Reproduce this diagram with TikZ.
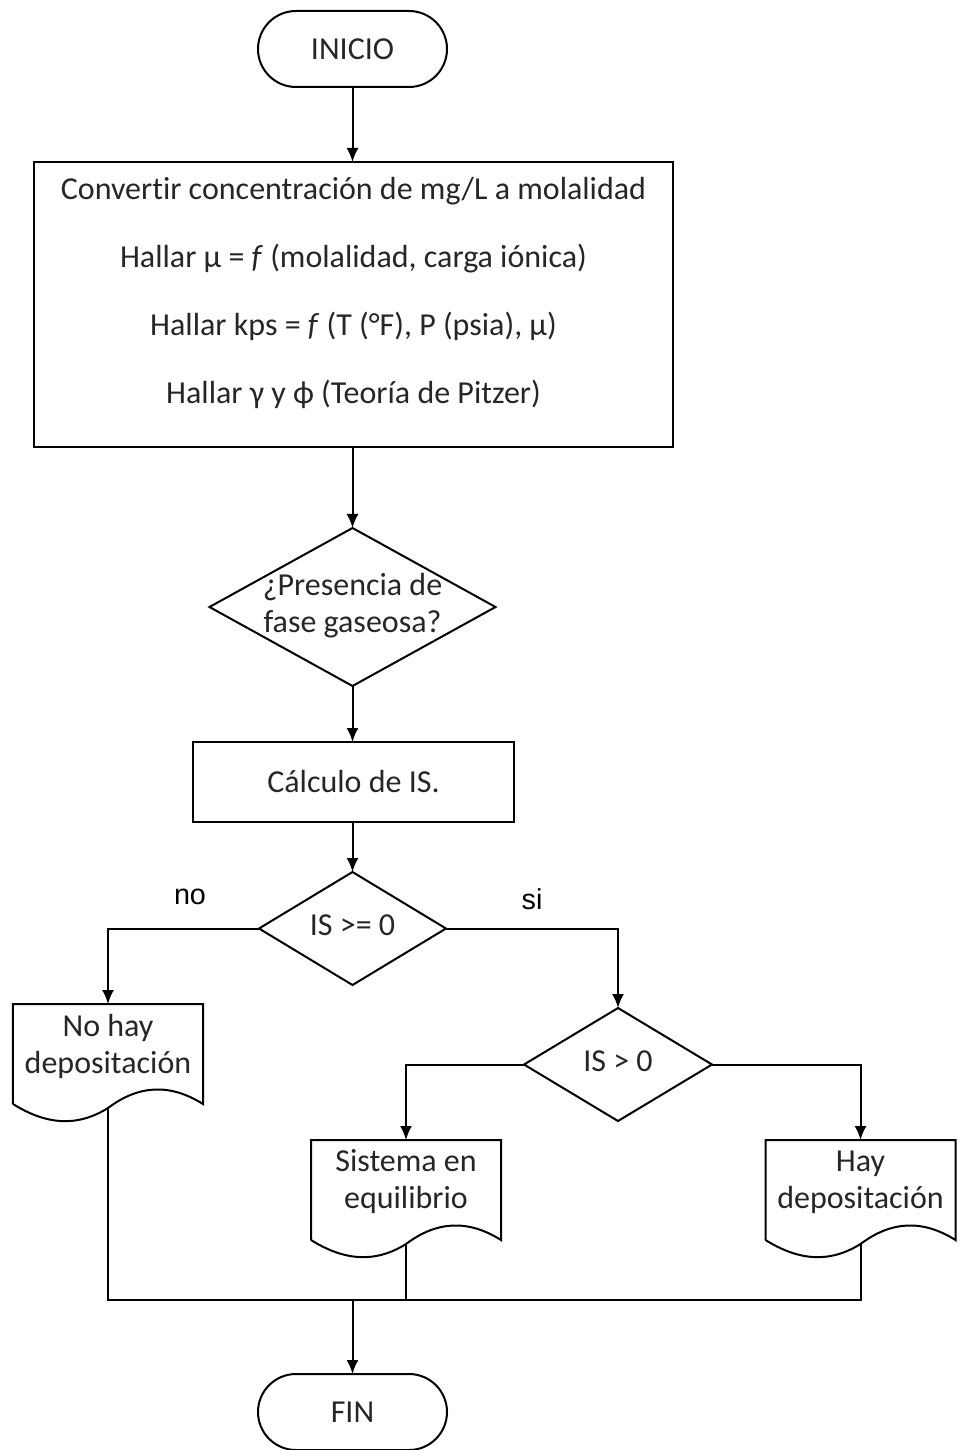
\documentclass[tikz,border=0pt]{standalone}
\usepackage{fontspec}
\setmainfont[Ligatures=NoCommon]{Carlito}
\newfontfamily\lblfont{Liberation Sans}
\usetikzlibrary{shapes.geometric,arrows.meta,calc}
\definecolor{txt}{HTML}{262626}
\newcommand{\dtxt}[1]{\makebox[0pt]{\begin{tabular}{@{}c@{}}#1\end{tabular}}}

\begin{document}
\begin{tikzpicture}[x=0.4pt, y=-0.4pt, thick,
        every node/.style={font=\fontsize{12.8}{14.8}\selectfont, text=txt, outer sep=0pt},
        term/.style={draw, rectangle, rounded corners=15.2pt, minimum width=75.6pt, minimum height=30.4pt},
        proc/.style={draw, rectangle},
        dec/.style={draw, diamond, inner sep=0pt},
        doc/.style={rectangle, minimum width=76pt, minimum height=33.6pt, align=center, inner sep=0pt},
        lbl/.style={font=\lblfont\fontsize{11.5}{13}\selectfont, text=black},
        arr/.style={-{Latex[length=5.6pt,width=4.8pt]}}]
        \useasboundingbox (0,0) rectangle (963,1450);

        \node[term] (ini) at (352.5,49) {INICIO};
        \node[proc, minimum width=255.6pt, minimum height=114pt] (conv) at (353.5,304.5) {};
        \node[align=center, font=\fontsize{12.8}{27.2}\selectfont] (convtxt) at (353.5,292.5)
            {Convertir concentración de mg/L a molalidad\\
             Hallar µ = \textit{f} (molalidad, carga iónica)\\
             Hallar kps = \textit{f} (T (°F), P (psia), µ)\\
             Hallar γ y ϕ (Teoría de Pitzer)};
        \node[dec, minimum width=114.4pt, minimum height=63.2pt] (gas) at (352.5,607) {\dtxt{¿Presencia de\\fase gaseosa?}};
        \node[proc, minimum width=128.4pt, minimum height=32pt] (calc) at (353.5,782) {Cálculo de IS.};
        \node[dec, minimum width=74.8pt, minimum height=45.2pt] (ge) at (352.5,928.5) {\dtxt{IS >= 0}};
        \node[dec, minimum width=75.2pt, minimum height=45.2pt] (gt) at (618,1064.5) {\dtxt{IS > 0}};

        \node[doc] (nohay) at (108,1046) {No hay\\depositación};
        \node[doc] (equi) at (406,1182) {Sistema en\\equilibrio};
        \node[doc] (hay) at (860.5,1182) {Hay\\depositación};
        \node[term] (fin) at (352.5,1412) {FIN};

        \node[lbl] (no) at (190,897) {no};
        \node[lbl] (si) at (532,899) {si};

        % wavy bottom of the document boxes
        \foreach \dn in {nohay,equi,hay} {
            \draw ($(\dn.south west)+(0,16)$) -- (\dn.north west) -- (\dn.north east) -- ($(\dn.south east)+(0,16)$)
                .. controls +(-32,-20) and +(32,-24) .. ($(\dn.south)+(0,20)$)
                .. controls +(-32,20) and +(32,20) .. ($(\dn.south west)+(0,16)$);
            \coordinate (\dn-out) at ($(\dn.south)+(0,20)$);
        }
        \coordinate (mrg) at (352.5,1300);

        \draw[arr] (ini) -- (ini |- conv.north);
        \draw[arr] (ini |- conv.south) -- (gas);
        \draw[arr] (gas) -- (gas |- calc.north);
        \draw[arr] (gas |- calc.south) -- (ge);
        \draw[arr] (ge.west) -| (nohay);
        \draw[arr] (ge.east) -| (gt);
        \draw[arr] (gt.west) -| (equi);
        \draw[arr] (gt.east) -| (hay);

        \draw (nohay-out) -- (nohay-out |- mrg) -- (hay-out |- mrg) -- (hay-out);
        \draw (equi-out) -- (equi-out |- mrg);
        \draw[arr] (mrg) -- (fin);
\end{tikzpicture}
\end{document}
